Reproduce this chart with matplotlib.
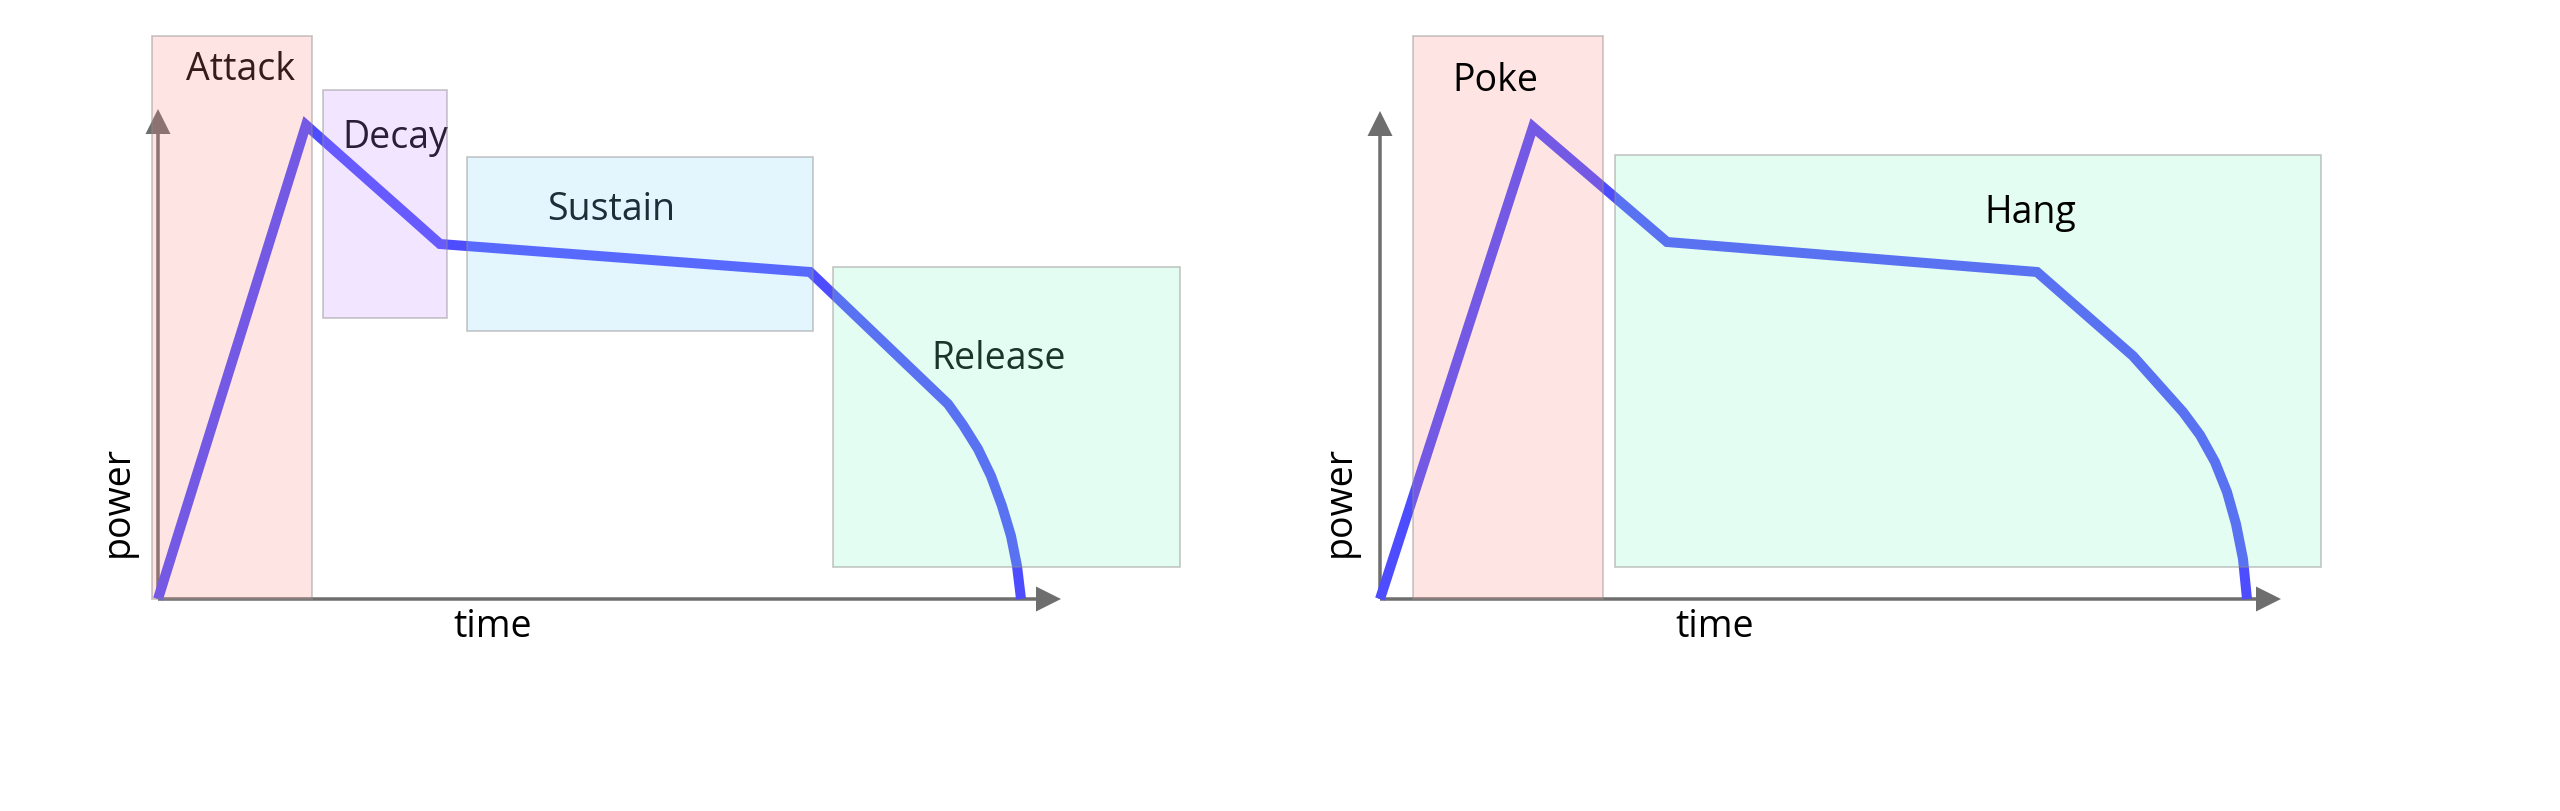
import matplotlib
matplotlib.use("Agg")
import matplotlib.pyplot as plt
from matplotlib.patches import Rectangle

plt.rcParams['font.family'] = ['Open Sans', 'DejaVu Sans']

# envelope curves (time, power), origin of each diagram at (0, 0)
adsr_time = [0, 1.48, 2.82, 6.52, 7.90, 8.05, 8.20, 8.33, 8.44, 8.53, 8.59, 8.63]
adsr_power = [0, 4.74, 3.55, 3.27, 1.95, 1.74, 1.50, 1.23, 0.93, 0.63, 0.33, 0.0]
ph_time = [0, 1.53, 2.87, 6.57, 7.53, 8.03, 8.20, 8.35, 8.47, 8.56, 8.63, 8.67]
ph_power = [0, 4.72, 3.57, 3.27, 2.43, 1.87, 1.64, 1.37, 1.07, 0.75, 0.40, 0.0]

# phase boxes: name, x0, x1, y0, y1, colour, label x, label baseline
adsr_names = ['Attack', 'Decay', 'Sustain', 'Release']
adsr_x0 = [-0.06, 1.65, 3.09, 6.75]
adsr_x1 = [1.54, 2.89, 6.55, 10.22]
adsr_y0 = [0.0, 2.81, 2.68, 0.32]
adsr_y1 = [5.63, 5.09, 4.42, 3.32]
adsr_colors = ['#ff8484', '#c88dff', '#80d2fa', '#80f6c8']
adsr_label_x = [0.82, 2.37, 4.53, 8.41]
adsr_label_y = [5.20, 4.52, 3.80, 2.31]

ph_names = ['Poke', 'Hang']
ph_x0 = [0.33, 2.35]
ph_x1 = [2.23, 9.41]
ph_y0 = [0.0, 0.32]
ph_y1 = [5.63, 4.44]
ph_colors = ['#ff8484', '#80f6c8']
ph_label_x = [1.15, 6.50]
ph_label_y = [5.09, 3.77]

fig = plt.figure(figsize=(25.6, 8.12), dpi=100)
ax1 = fig.add_axes([0, 0, 0.5, 1])
ax2 = fig.add_axes([0.5, 0, 0.5, 1])
ax1.set_xlim(-1.58, 11.22)
ax2.set_xlim(-1.0, 11.8)
fs = 27


def draw_panel(ax, t, p, names, x0, x1, y0, y1, colors, lx, ly, x_tip, y_tip, text_on_top):
    ax.set_ylim(-2.12, 6.0)
    ax.axis('off')
    # axes arrows
    ax.arrow(0, 0, 0, y_tip, width=0.035, head_width=0.25, head_length=0.25,
             length_includes_head=True, color='#6e6e6e', lw=0, zorder=1)
    ax.arrow(0, 0, x_tip, 0, width=0.035, head_width=0.25, head_length=0.25,
             length_includes_head=True, color='#6e6e6e', lw=0, zorder=1)
    ax.plot(t, p, color='#4d4dff', lw=7.2, solid_joinstyle='miter',
            solid_capstyle='butt', zorder=2)
    for i in range(len(names)):
        ax.add_patch(Rectangle((x0[i], y0[i]), x1[i] - x0[i], y1[i] - y0[i],
                               facecolor=colors[i], alpha=0.22, edgecolor='none', zorder=4))
        ax.add_patch(Rectangle((x0[i], y0[i]), x1[i] - x0[i], y1[i] - y0[i],
                               facecolor='none', edgecolor='#8c8c8c', alpha=0.45, lw=1.3, zorder=4))
        ax.text(lx[i], ly[i], names[i], fontsize=fs, ha='center', va='baseline',
                color='black', zorder=5 if text_on_top else 3)
    ax.text(3.35, -0.37, 'time', fontsize=fs, ha='center', va='baseline', color='black')
    ax.text(-0.40, 0.99, 'power', fontsize=fs, ha='center', va='center',
            rotation=90, color='black')


draw_panel(ax1, adsr_time, adsr_power, adsr_names, adsr_x0, adsr_x1, adsr_y0, adsr_y1,
           adsr_colors, adsr_label_x, adsr_label_y, 9.03, 4.90, False)
draw_panel(ax2, ph_time, ph_power, ph_names, ph_x0, ph_x1, ph_y0, ph_y1,
           ph_colors, ph_label_x, ph_label_y, 9.01, 4.88, True)

fig.savefig('out.png', dpi=100)
